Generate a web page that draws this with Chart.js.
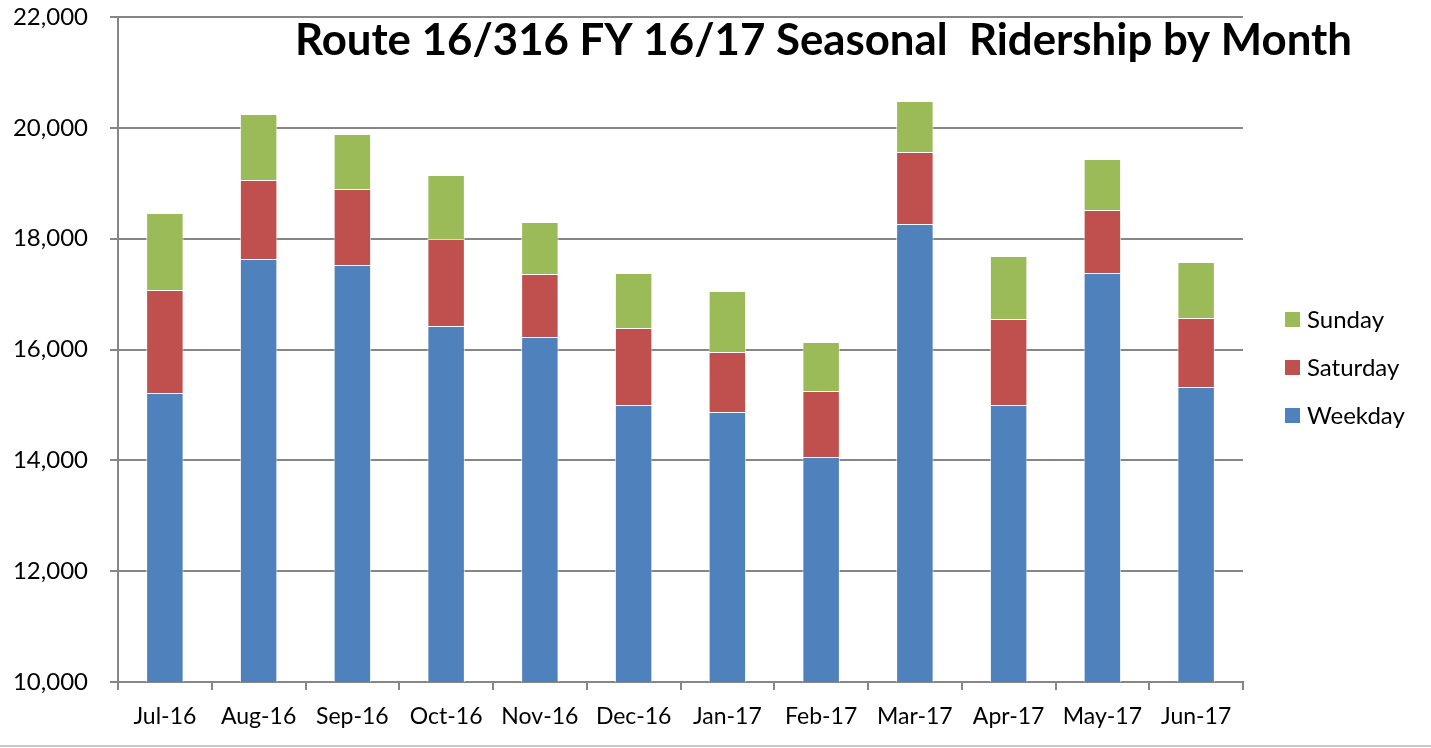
<!DOCTYPE html>
<html>
<head>
<meta charset="utf-8">
<script src="https://cdn.jsdelivr.net/npm/chart.js@4"></script>
<style>
  body { margin: 0; background: #fff; }
  #wrap { width: 1431px; height: 745px; border-bottom: 2px solid #c8c8c8; }
</style>
</head>
<body>
<div id="wrap"><canvas id="ridershipChart" width="1431" height="745"></canvas></div>
<script>
const months = ["Jul-16", "Aug-16", "Sep-16", "Oct-16", "Nov-16", "Dec-16",
  "Jan-17", "Feb-17", "Mar-17", "Apr-17", "May-17", "Jun-17"];
const weekday = [15215, 17633, 17525, 16424, 16226, 14998, 14872, 14060, 18265, 14998, 17380, 15323];
const saturday = [1859, 1426, 1371, 1570, 1136, 1390, 1083, 1191, 1299, 1552, 1137, 1245];
const sunday = [1389, 1191, 993, 1155, 939, 992, 1101, 884, 920, 1137, 921, 1011];
const yTicks = [10000, 12000, 14000, 16000, 18000, 20000, 22000];
const chartTitle = "Route 16/316 FY 16/17 Seasonal  Ridership by Month";

const fontName = "Lato, 'Open Sans', sans-serif";

// title sits inside the plot area, so draw it by hand
const titlePlugin = {
  id: "overTitle",
  afterDraw(chart) {
    const c = chart.ctx;
    c.save();
    c.font = "bold 44px " + fontName;
    c.fillStyle = "#000";
    c.textBaseline = "alphabetic";
    const w = c.measureText(chartTitle).width;
    const sx = 1057 / w;
    c.translate(295, 55);
    c.scale(sx, 1);
    c.fillText(chartTitle, 0, 0);
    c.restore();
  }
};

// legend on the right, Sunday on top
const legendPlugin = {
  id: "sideLegend",
  afterDraw(chart) {
    const c = chart.ctx;
    const sets = chart.data.datasets.slice().reverse();
    c.save();
    c.font = "24px " + fontName;
    c.textBaseline = "middle";
    sets.forEach((ds, i) => {
      const cy = 319 + i * 48;
      c.fillStyle = ds.backgroundColor;
      c.fillRect(1285, cy - 7, 15, 15);
      c.fillStyle = "#000";
      c.fillText(ds.label, 1307, cy + 1);
    });
    c.restore();
  }
};

const ctx = document.getElementById("ridershipChart").getContext("2d");
const ridershipChart = new Chart(ctx, {
  type: "bar",
  data: {
    labels: months,
    datasets: [
      { label: "Weekday", data: weekday, backgroundColor: "#4F81BD" },
      { label: "Saturday", data: saturday, backgroundColor: "#C0504D" },
      { label: "Sunday", data: sunday, backgroundColor: "#9BBB59" }
    ].map(d => Object.assign(d, {
      borderColor: "rgba(255,255,255,0.7)",
      borderWidth: 1,
      barPercentage: 0.4,
      categoryPercentage: 1.0
    }))
  },
  options: {
    responsive: false,
    animation: false,
    layout: { padding: { left: 0, top: 17, right: 188, bottom: 0 } },
    scales: {
      x: {
        stacked: true,
        grid: {
          offset: true,
          drawOnChartArea: false,
          drawTicks: true,
          tickLength: 8,
          color: "#868686",
          lineWidth: 2
        },
        border: { color: "#868686", width: 2 },
        ticks: { color: "#000", font: { family: fontName, size: 23 }, padding: 13, maxRotation: 0 },
        afterFit: s => { s.height = 63; s.paddingLeft = 0; s.paddingRight = 0; }
      },
      y: {
        stacked: true,
        min: 10000,
        max: 22000,
        afterBuildTicks: s => { s.ticks = yTicks.map(v => ({ value: v })); },
        grid: { color: "#868686", lineWidth: 2, tickLength: 8 },
        border: { color: "#868686", width: 2 },
        ticks: {
          color: "#000",
          font: { family: fontName, size: 24 },
          padding: 22,
          callback: v => v.toLocaleString("en-US")
        },
        afterFit: s => { s.width = 118; s.paddingTop = 0; s.paddingBottom = 0; }
      }
    },
    plugins: {
      legend: { display: false },
      tooltip: { enabled: false }
    }
  },
  plugins: [titlePlugin, legendPlugin]
});
</script>
</body>
</html>
